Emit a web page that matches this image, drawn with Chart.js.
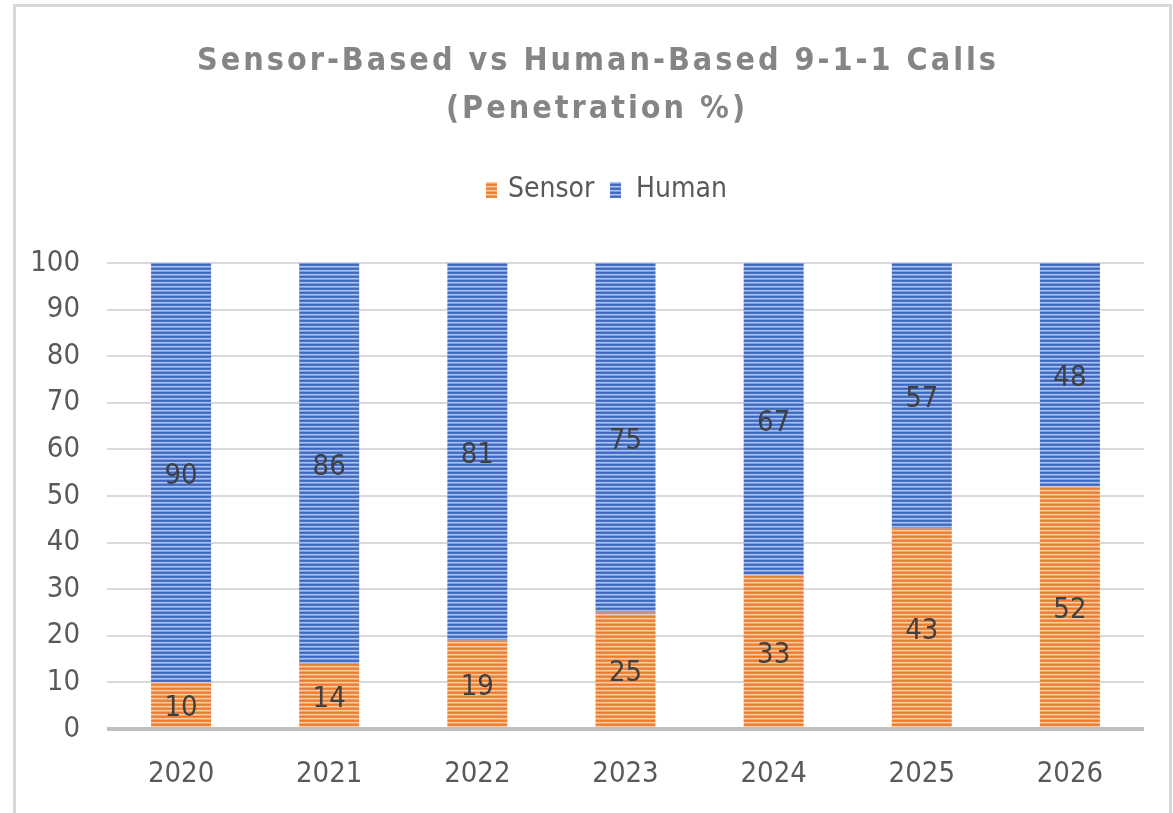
<!DOCTYPE html>
<html>
<head>
<meta charset="utf-8">
<script src="https://cdn.jsdelivr.net/npm/chart.js@4.4.1/dist/chart.umd.min.js"></script>
<style>
  html, body { margin: 0; padding: 0; background: #ffffff; }
  #wrap { position: relative; width: 1173px; height: 813px; }
</style>
</head>
<body>
<div id="wrap"><canvas id="myChart" width="1173" height="813"></canvas></div>
<script>
 // data
 var years = ["2020", "2021", "2022", "2023", "2024", "2025", "2026"];
 var sensor = [10, 14, 19, 25, 33, 43, 52];
 var human = [90, 86, 81, 75, 67, 57, 48];
 var seriesNames = ["Sensor", "Human"];
 var titleLines = ["Sensor-Based vs Human-Based 9-1-1 Calls", "(Penetration %)"];

 var FONT = "'Liberation Sans Narrow', 'DejaVu Sans Condensed', Roboto, sans-serif";

 // horizontal striped fill like the office pattern fill
 function stripes(rows) {
   var c = document.createElement("canvas");
   c.width = 8; c.height = rows.length;
   var g = c.getContext("2d");
   for (var i = 0; i < rows.length; i++) {
     g.fillStyle = rows[i];
     g.fillRect(0, i, 8, 1);
   }
   return g.createPattern(c, "repeat");
 }
 var orangeFill = stripes(["#ec7a2c", "#ef8843", "#f9caa4", "#f4a66e"]);
 var blueFill = stripes(["#3f67bd", "#4a74c8", "#a9bfec", "#7d9de0"]);

 //========= frame, title and legend
 var decoPlugin = {
   id: "deco",
   beforeDraw: function(chart) {
     var ctx = chart.ctx;
     ctx.save();
     ctx.strokeStyle = "#d9d9d9";
     ctx.lineWidth = 3;
     ctx.strokeRect(14.5, 5.5, 1156, 820);
     ctx.restore();
   },
   afterDraw: function(chart) {
     var ctx = chart.ctx;
     ctx.save();
     ctx.fillStyle = "#858585";
     ctx.textAlign = "center";
     ctx.textBaseline = "middle";
     ctx.font = "bold 32px " + FONT;
     ctx.letterSpacing = "3px";
     ctx.fillText(titleLines[0], 598, 62);
     ctx.fillText(titleLines[1], 597, 110);
     ctx.letterSpacing = "0px";

     // legend
     ctx.font = "28px " + FONT;
     ctx.textAlign = "left";
     ctx.fillStyle = orangeFill;
     ctx.fillRect(486, 182, 11, 16);
     ctx.fillStyle = blueFill;
     ctx.fillRect(610, 182, 11, 16);
     ctx.fillStyle = "#595959";
     ctx.fillText(seriesNames[0], 508, 190);
     ctx.fillText(seriesNames[1], 636, 190);
     ctx.restore();
   }
 };

 //========= numbers inside the bars
 var labelPlugin = {
   id: "barLabels",
   afterDatasetsDraw: function(chart) {
     var ctx = chart.ctx;
     ctx.save();
     ctx.font = "29px " + FONT;
     ctx.fillStyle = "#404040";
     ctx.textAlign = "center";
     ctx.textBaseline = "middle";
     chart.data.datasets.forEach(function(ds, i) {
       chart.getDatasetMeta(i).data.forEach(function(bar, j) {
         ctx.fillText(ds.data[j], bar.x, (bar.y + bar.base) / 2 + 4);
       });
     });
     ctx.restore();
   }
 };

 var ctx = document.getElementById("myChart").getContext("2d");
 var myChart = new Chart(ctx, {
   type: "bar",
   data: {
     labels: years,
     datasets: [
       { label: seriesNames[0], data: sensor, backgroundColor: orangeFill, borderWidth: 0 },
       { label: seriesNames[1], data: human, backgroundColor: blueFill, borderWidth: 0 }
     ]
   },
   options: {
     responsive: false,
     animation: false,
     layout: { padding: { top: 263, right: 29, left: 0, bottom: 0 } },
     datasets: { bar: { categoryPercentage: 1, barPercentage: 0.405 } },
     plugins: {
       legend: { display: false },
       title: { display: false },
       tooltip: { enabled: false }
     },
     scales: {
       x: {
         stacked: true,
         grid: { display: false, drawTicks: false },
         border: { display: false },
         ticks: { color: "#595959", font: { size: 29, family: FONT }, padding: 28 },
         afterFit: function(s) { s.height = 84; }
       },
       y: {
         stacked: true,
         min: 0,
         max: 100,
         grid: {
           drawTicks: false,
           color: function(c) { return c.tick && c.tick.value === 0 ? "#bfbfbf" : "#d9d9d9"; },
           lineWidth: function(c) { return c.tick && c.tick.value === 0 ? 4 : 2; }
         },
         border: { display: false },
         ticks: { stepSize: 10, color: "#595959", font: { size: 29, family: FONT }, padding: 27 },
         afterFit: function(s) { s.width = 107; }
       }
     }
   },
   plugins: [decoPlugin, labelPlugin]
 });
</script>
</body>
</html>
